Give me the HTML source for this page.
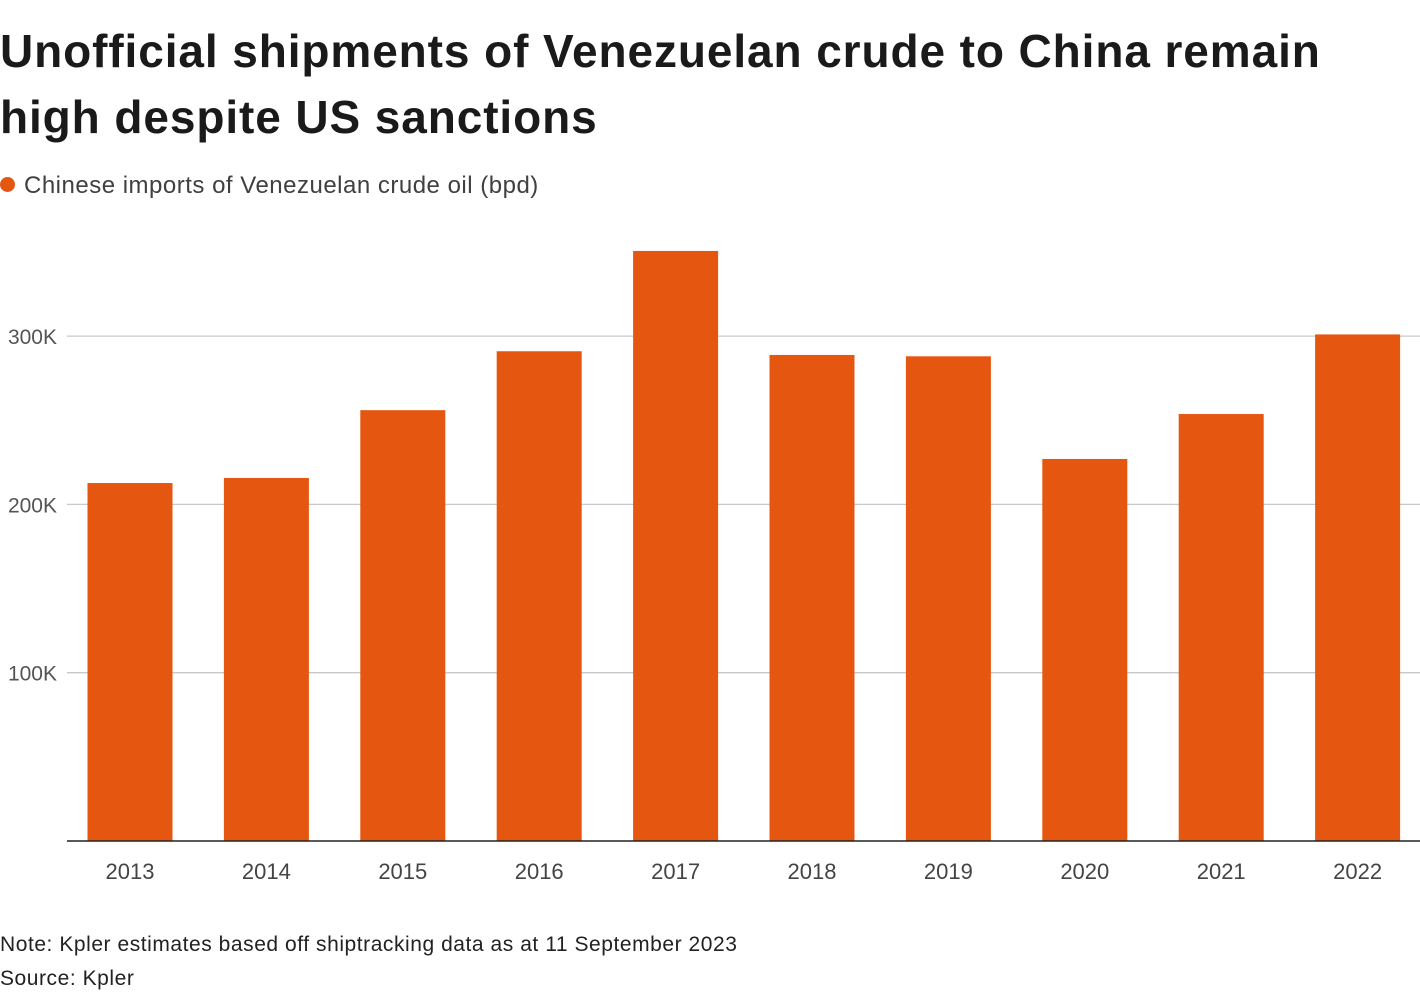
<!DOCTYPE html>
<html><head><meta charset="utf-8"><style>
body{margin:0;background:#fff;width:1420px;height:1000px;overflow:hidden;font-family:"Liberation Sans",sans-serif;}
#title{position:absolute;left:0;top:18px;font-size:46px;font-weight:bold;line-height:66px;color:#1a1a1a;margin:0;letter-spacing:0.9px}
#legend{position:absolute;left:0;top:172px;font-size:24px;color:#404040;letter-spacing:0.5px}
#legend span.dot{display:inline-block;width:15px;height:15px;border-radius:50%;background:#e55711;margin-right:9px;vertical-align:1px}
.note{position:absolute;left:0;font-size:21px;color:#222;letter-spacing:0.55px}
svg{position:absolute;left:0;top:0}
</style></head><body>
<h1 id="title">Unofficial shipments of Venezuelan crude to China remain<br>high despite US sanctions</h1>
<div id="legend"><span class="dot"></span>Chinese imports of Venezuelan crude oil (bpd)</div>
<svg id="chart" width="1420" height="1000"></svg>
<div class="note" style="top:933px">Note: Kpler estimates based off shiptracking data as at 11 September 2023</div>
<div class="note" style="top:967px">Source: Kpler</div>
<script>
const years=["2013","2014","2015","2016","2017","2018","2019","2020","2021","2022"];
const imports=[212700,215700,256000,291000,350600,288800,288000,227000,253700,301000];
const yTicks=[100000,200000,300000];
const yTickLabels=["100K","200K","300K"];
const NS="http://www.w3.org/2000/svg";
const svg=document.getElementById('chart');
const y0=841, pxPer=168.3/100000;
const y=v=>y0-v*pxPer;
const x=i=>130+i*136.4;
const bw=85;
function el(t,a){const e=document.createElementNS(NS,t);for(const k in a)e.setAttribute(k,a[k]);svg.appendChild(e);return e;}
yTicks.forEach((v,i)=>{
 const l=el('line',{x1:67,x2:1420,y1:y(v),y2:y(v),stroke:'#c8c8c8','stroke-width':1.3});
 
 
 const t=el('text',{x:57,y:y(v)+8,'text-anchor':'end','font-size':21,fill:'#555','font-family':'Liberation Sans, sans-serif'});
 t.textContent=yTickLabels[i];
 
 
});
imports.forEach((v,i)=>{
 const r=el('rect',{x:x(i)-bw/2,y:y(v),width:bw,height:y0-y(v),fill:'#e55711'});
 
 
 const t=el('text',{x:x(i),y:879,'text-anchor':'middle','font-size':22,fill:'#444','font-family':'Liberation Sans, sans-serif'});
 t.textContent=years[i];
 
 
});
const ax=el('line',{x1:67,x2:1420,y1:y0,y2:y0,stroke:'#222','stroke-width':1.5});


</script>
</body></html>
